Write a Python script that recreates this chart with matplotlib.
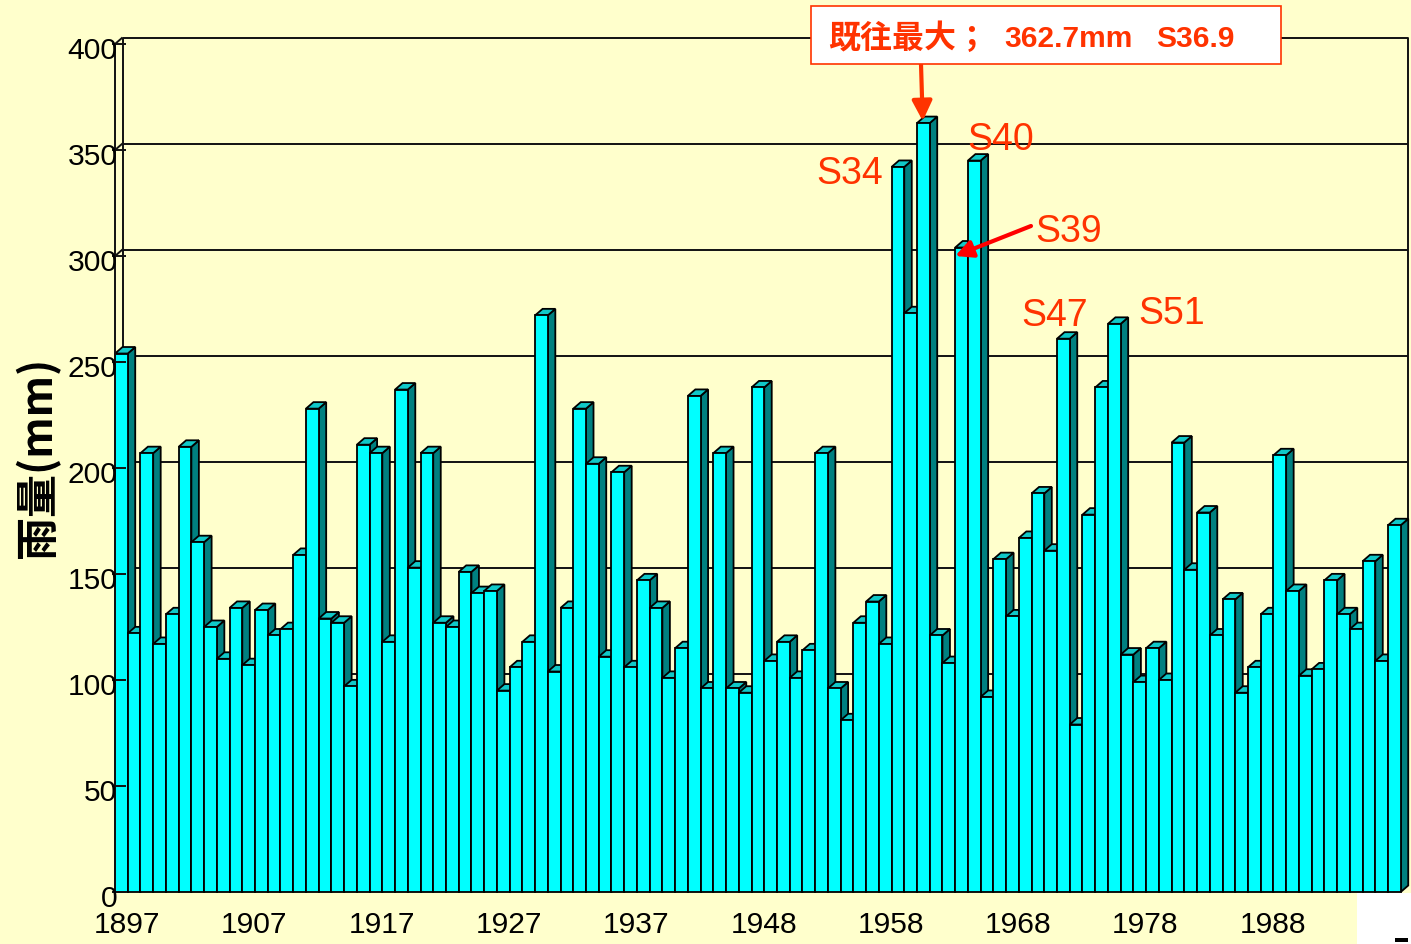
import matplotlib
matplotlib.use("Agg")
import matplotlib.pyplot as plt
from matplotlib import font_manager
from matplotlib.patches import Polygon, Rectangle

# --- data -------------------------------------------------------------------
# one bar per year; 1947 is missing in the source chart
years = list(range(1897, 1947)) + list(range(1948, 1999))
rain_mm = [
    254, 122, 207, 117, 131, 210, 165, 125, 110, 134,
    107, 133, 121, 124, 159, 228, 129, 127, 97, 211,
    207, 118, 237, 153, 207, 127, 125, 151, 141, 142,
    95, 106, 118, 272, 104, 134, 228, 202, 111, 198,
    106, 147, 134, 101, 115, 234, 96, 207, 96, 94,
    238, 109, 118, 101, 114, 207, 96, 81, 127, 137,
    117, 342, 273, 362.7, 121, 108, 304, 345, 92, 157,
    130, 167, 188, 161, 261, 79, 178, 238, 268, 112,
    99, 115, 100, 212, 152, 179, 121, 138, 94, 106,
    131, 206, 142, 102, 105, 147, 131, 124, 156, 109,
    173,
]
y_ticks = [0, 50, 100, 150, 200, 250, 300, 350, 400]
tick_every = 10

note_labels = ["S34", "S40", "S39", "S47", "S51"]
peak_title = "既往最大；"
peak_value = "362.7mm"
peak_date = "S36.9"
y_label = "雨量(mm)"

# --- style ------------------------------------------------------------------
BG = "#FFFFCC"
FRONT = "#00FFFF"
SIDE = "#008080"
TOP = "#10C8C8"
NOTE = "#FF3300"
ARROW_RED = "#FF0000"
INK = "#111111"


def has_font(name):
    try:
        font_manager.findfont(font_manager.FontProperties(family=name), fallback_to_default=False)
        return True
    except ValueError:
        return False


# the original uses a narrow sans; fall back to a slightly smaller regular one
if has_font("Liberation Sans Narrow"):
    NARROW, NSCALE = "Liberation Sans Narrow", 1.0
else:
    NARROW, NSCALE = "Liberation Sans", 0.9
CJK = ["Noto Sans CJK JP", "DejaVu Sans"]

W, H = 1411, 945
BAR_PX, MM_PX = 12.73, 2.12
X0, Y0 = 115, 893
n = len(rain_mm)
DX = 7.5 / BAR_PX
DY = 6.5 / MM_PX

fig = plt.figure(figsize=(W / 100, H / 100), dpi=100, facecolor=BG)
ax = fig.add_axes([X0 / W, (H - Y0) / H, n * BAR_PX / W, 400 * MM_PX / H])
ax.set_xlim(0, n)
ax.set_ylim(0, 400)
ax.axis("off")
ax.patch.set_visible(False)

line_kw = dict(color=INK, lw=1.4, clip_on=False, solid_capstyle="butt")

# back wall and grid
for v in y_ticks[1:-1]:
    ax.plot([DX, n + DX], [v + DY, v + DY], zorder=1, **line_kw)
ax.plot([DX, DX, n + DX, n + DX], [DY, 400 + DY, 400 + DY, DY], zorder=1, **line_kw)
# side wall lines
for v in y_ticks:
    ax.plot([0, DX], [v, v + DY], zorder=1, **line_kw)

# 3d bars, painted left to right so each front hides the previous side
edge_kw = dict(ec="black", lw=1.3, joinstyle="miter", clip_on=False, zorder=3)
for i, v in enumerate(rain_mm):
    ax.add_patch(Polygon([(i + 1, 0), (i + 1 + DX, DY), (i + 1 + DX, v + DY), (i + 1, v)],
                         fc=SIDE, **edge_kw))
    ax.add_patch(Polygon([(i, v), (i + DX, v + DY), (i + 1 + DX, v + DY), (i + 1, v)],
                         fc=TOP, **edge_kw))
    ax.add_patch(Rectangle((i, 0), 1, v, fc=FRONT, **edge_kw))

# front value axis
ax.plot([0, 0], [0, 400], zorder=6, **line_kw)
for v in y_ticks:
    ax.plot([-0.2, 0.85], [v, v], zorder=6, **line_kw)
    ax.text(0.2, v - 3.0, str(v), ha="right", va="center", fontsize=24 * NSCALE,
            family=NARROW, zorder=7)

for k in range(0, n - 1, tick_every):
    ax.text(k + 0.95, -8.5, str(years[k]), ha="center", va="top", fontsize=24 * NSCALE,
            family=NARROW, zorder=7)

fig.text(38 / W, 1 - 457 / H, y_label, rotation=90, ha="center", va="center",
         fontsize=31, fontweight="bold", family=CJK)

# peak annotation box
fig.patches.append(Rectangle((811 / W, 1 - 65 / H), 470 / W, 58 / H, transform=fig.transFigure,
                             fc="white", ec=NOTE, lw=1.2, zorder=8))
fig.text(828 / W, 1 - 39 / H, peak_title, ha="left", va="center", fontsize=23,
         fontweight="bold", color=NOTE, family=CJK, zorder=9)
fig.text(1004 / W, 1 - 39 / H, peak_value, ha="left", va="center", fontsize=21.5,
         fontweight="bold", color=NOTE, family="Liberation Sans", zorder=9)
fig.text(1156 / W, 1 - 39 / H, peak_date, ha="left", va="center", fontsize=21.5,
         fontweight="bold", color=NOTE, family="Liberation Sans", zorder=9)

peak = max(range(n), key=lambda j: rain_mm[j])
ax.annotate("", xy=(peak + 0.45, rain_mm[peak] + 1), xycoords="data",
            xytext=(921, H - 65), textcoords="figure pixels",
            arrowprops=dict(arrowstyle="-|>", color=NOTE, lw=3, mutation_scale=30,
                            shrinkA=0, shrinkB=0), zorder=9)

# S-year labels (layout positions in data units)
note_pos = [(57.7, 339), (69.6, 355), (74.9, 312), (73.8, 272), (83.0, 273)]
for txt, (x, y) in zip(note_labels, note_pos):
    ax.text(x, y, txt, ha="center", va="center", fontsize=30 * NSCALE, color=NOTE,
            family=NARROW, zorder=9)

s39 = years.index(1964)
ax.annotate("", xy=(s39, rain_mm[s39] - 4), xycoords="data",
            xytext=(1031, H - 227), textcoords="figure pixels",
            arrowprops=dict(arrowstyle="-|>", color=ARROW_RED, lw=3, mutation_scale=26,
                            shrinkA=0, shrinkB=0), zorder=9)

# white corner of the slide and the small dash
fig.patches.append(Rectangle((1357 / W, 0), (W - 1357) / W, (H - 894) / H,
                             transform=fig.transFigure, fc="white", ec="none", zorder=-1))
fig.patches.append(Rectangle((1395 / W, 2 / H), 13 / W, 4 / H,
                             transform=fig.transFigure, fc="black", ec="none", zorder=10))

fig.savefig("out.png", dpi=100, facecolor=BG)
